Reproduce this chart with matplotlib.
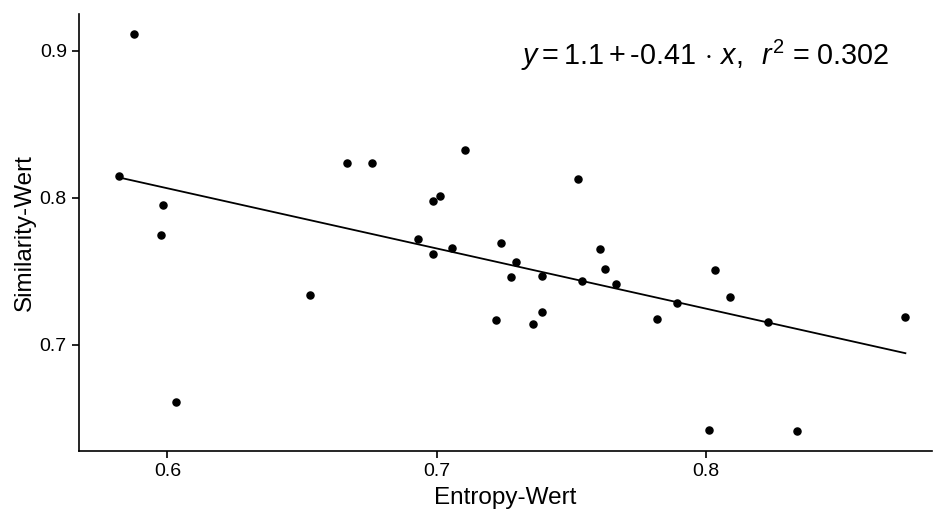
import numpy as np
import matplotlib
matplotlib.use("Agg")
import matplotlib.pyplot as plt

plt.rcParams['font.family'] = ['Liberation Sans', 'DejaVu Sans']
plt.rcParams['mathtext.fontset'] = 'custom'
plt.rcParams['mathtext.rm'] = 'Liberation Sans'
plt.rcParams['mathtext.it'] = 'Liberation Sans:italic'

# Entropy-Wert / Similarity-Wert
entropy = [0.5819, 0.5877, 0.5985, 0.5975, 0.6033, 0.6530, 0.6666, 0.6759,
           0.7105, 0.6985, 0.7013, 0.6931, 0.6986, 0.7056, 0.7526, 0.7240,
           0.7296, 0.7277, 0.7392, 0.7540, 0.7607, 0.7627, 0.7667, 0.7222,
           0.7358, 0.7392, 0.7820, 0.7894, 0.8033, 0.8090, 0.8229, 0.8741,
           0.8013, 0.8338]
similarity = [0.8148, 0.9114, 0.7952, 0.7748, 0.6607, 0.7337, 0.8237, 0.8237,
              0.8327, 0.7977, 0.8012, 0.7718, 0.7618, 0.7659, 0.8127, 0.7689,
              0.7560, 0.7459, 0.7468, 0.7432, 0.7648, 0.7512, 0.7410, 0.7166,
              0.7137, 0.7219, 0.7171, 0.7284, 0.7507, 0.7323, 0.7155, 0.7185,
              0.6419, 0.6412]
eq_text = r'$y = 1.1 +$' + '-0.41' + r'$\,\cdot\, x,\;\; r^2$ = 0.302'

x = np.array(entropy)
y = np.array(similarity)
slope, intercept = np.polyfit(x, y, 1)
xs = np.array([x.min(), x.max()])

fig = plt.figure(figsize=(9.34, 5.15), dpi=100)
ax = fig.add_axes([0.0849, 0.1243, 0.913, 0.848])

ax.plot(xs, intercept + slope * xs, color='black', lw=1.3)
ax.scatter(x, y, s=26, color='black', zorder=3)

ax.set_xlim(0.5673, 0.884)
ax.set_ylim(0.6275, 0.925)
ax.set_xticks([0.6, 0.7, 0.8])
ax.set_yticks([0.7, 0.8, 0.9])
ax.set_xticklabels(['0.6', '0.7', '0.8'])
ax.set_yticklabels(['0.7', '0.8', '0.9'])
ax.tick_params(direction='out', length=5, width=1.2, labelsize=14, colors='black', pad=4)
for s in ['top', 'right']:
    ax.spines[s].set_visible(False)
for s in ['left', 'bottom']:
    ax.spines[s].set_linewidth(1.2)

ax.set_xlabel('Entropy-Wert', fontsize=17.5, labelpad=5)
ax.set_ylabel('Similarity-Wert', fontsize=17.5, labelpad=3)

ax.text(0.7998, 0.897, eq_text, fontsize=20.7, ha='center', va='center')

fig.savefig('out.png', dpi=100)
